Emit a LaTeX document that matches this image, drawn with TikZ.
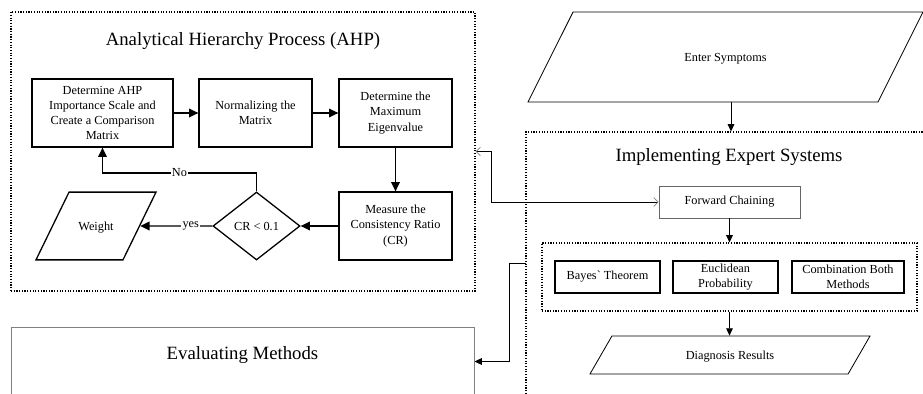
\documentclass[tikz,border=0pt]{standalone}
\usepackage{fontspec}
\setmainfont{Liberation Serif}
\usetikzlibrary{arrows.meta,shapes.geometric,fit}

\begin{document}
\begin{tikzpicture}[x=0.03cm, y=-0.03cm,
    groupe/.style={draw, line width=0.9pt, dash pattern=on 1pt off 1.3pt, inner sep=0pt},
    etape/.style={draw, line width=1.1pt, align=center, inner sep=1pt,
        font=\fontsize{10.5}{13}\selectfont},
    petit/.style={draw, line width=0.8pt, align=center, inner sep=1pt,
        font=\fontsize{10.5}{13}\selectfont},
    entree/.style={draw, trapezium, trapezium stretches body, inner xsep=1pt, inner ysep=0pt,
        font=\fontsize{10.5}{13}\selectfont},
    titre/.style={font=\fontsize{16}{19}\selectfont},
    lbl/.style={fill=white, inner sep=1pt, font=\fontsize{10.5}{13}\selectfont},
    ahparrow/.style={-{Triangle[length=2.8mm,width=2.6mm]}, line width=1.1pt},
    fleche/.style={-{Triangle[length=2.2mm,width=2mm]}, line width=0.7pt},
    lien/.style={{Straight Barb[length=1.3mm,width=2.6mm,color=gray]}-{Straight Barb[length=1.3mm,width=2.6mm,color=gray]}, line width=0.6pt}
]
    \clip (0,0) rectangle (923,394);

    \coordinate (ahpA) at (11,12);
    \coordinate (ahpB) at (475,291);
    \coordinate (iesA) at (526,132);
    \coordinate (iesB) at (936,420);
    \coordinate (evA) at (11,327);
    \coordinate (evB) at (474,396);
    \coordinate (mA) at (542,243);
    \coordinate (mB) at (917,311);

    % Cadres
    \node[groupe, fit=(ahpA)(ahpB)] (ahp) {};
    \node[groupe, fit=(iesA)(iesB)] (ies) {};
    \node[groupe, fit=(mA)(mB)] (methods) {};
    \node[draw=gray, line width=0.8pt, inner sep=0pt, fit=(evA)(evB), titre] (eval) {Evaluating Methods};

    \node[titre] (ahptitre) at (243,41) {Analytical Hierarchy Process (AHP)};
    \node[titre] (iestitre) at (729,157) {Implementing Expert Systems};

    % AHP
    \node[etape, minimum width=4.23cm, minimum height=2.04cm] (det) at (102.5,113)
        {Determine AHP\\Importance Scale and\\Create a Comparison\\Matrix};
    \node[etape, minimum width=3.39cm, minimum height=2.04cm] (norm) at (255.5,113)
        {Normalizing the\\Matrix};
    \node[etape, minimum width=3.39cm, minimum height=2.04cm] (eigen) at (395.5,113)
        {Determine the\\Maximum\\Eigenvalue};
    \node[etape, minimum width=3.39cm, minimum height=2.04cm] (cr) at (395.5,226)
        {Measure the\\Consistency Ratio\\(CR)};
    \node[etape, diamond, minimum width=2.61cm, minimum height=2.04cm] (test) at (256.5,226)
        {CR < 0.1};
    \node[entree, line width=1.1pt, trapezium left angle=64, trapezium right angle=116,
        minimum width=3.6cm, text height=32.4pt, text depth=25.4pt] (weight) at (96,226) {Weight};
    \coordinate (retour) at (102.5,173);

    \draw[ahparrow] (det) -- (norm);
    \draw[ahparrow] (norm) -- (eigen);
    \draw[ahparrow] (eigen) -- (cr);
    \draw[ahparrow] (cr) -- (test);
    \draw[ahparrow] (test) -- node[lbl, pos=0.3] {yes} (weight);
    \draw[ahparrow] (test.north) |- node[lbl, pos=0.75] {No} (retour) -- (det.south);

    % Systeme expert
    \node[entree, line width=0.7pt, trapezium left angle=63.4, trapezium right angle=116.6,
        minimum width=11.85cm, text height=41.9pt, text depth=34.9pt] (enter) at (725.5,57) {Enter Symptoms};
    \node[petit, draw=gray!80!black, minimum width=4.23cm, minimum height=0.96cm] (fc) at (729.5,202)
        {Forward Chaining};
    \node[petit, line width=1.1pt, minimum width=3.15cm, minimum height=0.96cm] (bayes) at (607.5,277)
        {Bayes\textasciigrave{} Theorem};
    \node[petit, line width=1.1pt, minimum width=3.15cm, minimum height=0.96cm] (euclid) at (725.5,277)
        {Euclidean\\Probability};
    \node[petit, line width=1.1pt, minimum width=3.36cm, minimum height=0.96cm] (comb) at (848,277)
        {Combination Both\\Methods};
    \node[entree, line width=0.7pt, trapezium left angle=60, trapezium right angle=120,
        minimum width=8.4cm, text height=19.7pt, text depth=12.7pt] (diag) at (730,355) {Diagnosis Results};

    \coordinate (coude) at (491,151.5);
    \coordinate (sortie) at (526,263);
    \coordinate (coude2) at (509,263);

    \draw[fleche] (enter.south -| ies.north) -- (ies.north);
    \draw[fleche] (fc.south) -- (methods.north);
    \draw[fleche] (methods.south) -- (methods.south |- diag.north);
    \draw[lien] (ahp.east) -- (coude) |- (fc.west);
    \draw[fleche] (sortie) -- (coude2) |- (eval.east);
\end{tikzpicture}
\end{document}
